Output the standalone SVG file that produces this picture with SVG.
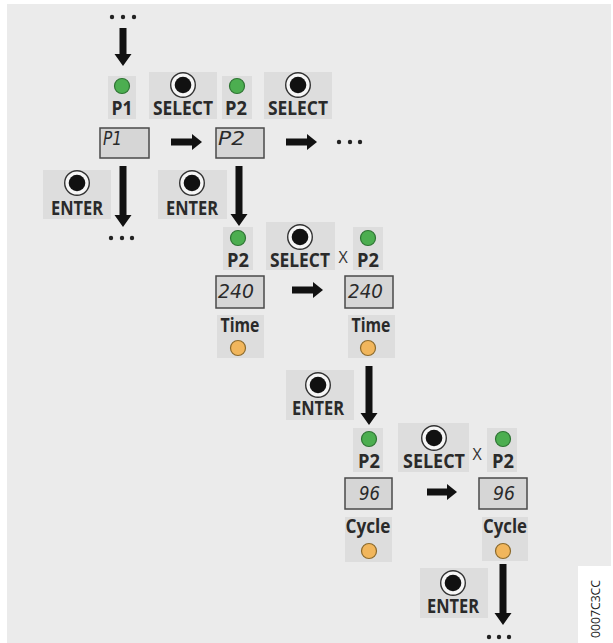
<svg xmlns="http://www.w3.org/2000/svg" xmlns:xlink="http://www.w3.org/1999/xlink" width="613" height="643" viewBox="0 0 613 643">
<style>
.bg{fill:#ebebeb}
.box{fill:#dddddd}
.disp{fill:#d6d6d6;stroke:#4a4a4a;stroke-width:1.5}
.lbl{font-family:"Open Sans","Noto Sans",sans-serif;font-weight:700;font-size:19.5px;fill:#2a2a2a;text-anchor:middle}
.dtxt{font-family:"DejaVu Sans","Liberation Sans",sans-serif;font-style:italic;font-weight:200;font-size:20px;fill:#2a2a2a}
.x{font-family:"Open Sans","Noto Sans",sans-serif;font-size:16px;fill:#333;text-anchor:middle}
.code{font-family:"Open Sans","Noto Sans",sans-serif;font-size:12px;fill:#222;text-anchor:middle}
.green{fill:#4cae50;stroke:#2e7433;stroke-width:1.2}
.orange{fill:#f1b65c;stroke:#8c6a2c;stroke-width:1.2}
.arrow{fill:#111}
.dot{fill:#222}
</style>
<defs>
<g id="btn">
<circle r="12.3" fill="#f6f6f6" stroke="#333" stroke-width="1.4"/>
<circle r="8.3" fill="#111"/>
</g>
</defs>
<rect class="bg" x="7" y="4" width="604" height="639"/>
<rect x="578" y="566" width="35" height="77" fill="#ffffff"/>

<g id="connectors">
<path class="arrow" d="M119.5,28 H126.5 V54 H131.5 L123,66 L114.5,54 H119.5 Z"/>
<path class="arrow" d="M171,138.5 H192 V134 L202,142 L192,150 V145.5 H171 Z"/>
<path class="arrow" d="M286,138.5 H307 V134 L317,142 L307,150 V145.5 H286 Z"/>
<path class="arrow" d="M119.5,166 H126.5 V215 H131.5 L123,227 L114.5,215 H119.5 Z"/>
<path class="arrow" d="M235.5,166 H242.5 V214 H247.5 L239,226 L230.5,214 H235.5 Z"/>
<path class="arrow" d="M292,286.5 H313 V282 L323,290 L313,298 V293.5 H292 Z"/>
<path class="arrow" d="M365.5,366 H372.5 V413 H377.5 L369,425 L360.5,413 H365.5 Z"/>
<path class="arrow" d="M427,488.5 H447 V484 L457,492 L447,500 V495.5 H427 Z"/>
<path class="arrow" d="M499.5,564 H506.5 V613 H511.5 L503,625 L494.5,613 H499.5 Z"/>
</g>

<g id="dots-top"><circle class="dot" cx="112" cy="17" r="2.2"/><circle class="dot" cx="123" cy="17" r="2.2"/><circle class="dot" cx="134" cy="17" r="2.2"/></g>
<g id="dots-right"><circle class="dot" cx="339" cy="142" r="2.2"/><circle class="dot" cx="350" cy="142" r="2.2"/><circle class="dot" cx="360" cy="142" r="2.2"/></g>
<g id="dots-enter1"><circle class="dot" cx="111" cy="238" r="2.2"/><circle class="dot" cx="122" cy="238" r="2.2"/><circle class="dot" cx="132" cy="238" r="2.2"/></g>
<g id="dots-bottom"><circle class="dot" cx="489" cy="637" r="2.2"/><circle class="dot" cx="499" cy="637" r="2.2"/><circle class="dot" cx="509" cy="637" r="2.2"/></g>

<!-- Row 1 -->
<g id="led-p1"><rect class="box" x="108" y="76" width="28" height="43"/><circle class="green" cx="122" cy="86" r="7.5"/><text class="lbl" x="122" y="115" textLength="21" lengthAdjust="spacingAndGlyphs">P1</text></g>
<g id="select1"><rect class="box" x="149" y="72" width="68" height="47"/><use xlink:href="#btn" x="183" y="85"/><text class="lbl" x="183" y="115" textLength="60" lengthAdjust="spacingAndGlyphs">SELECT</text></g>
<g id="led-p2a"><rect class="box" x="222" y="76" width="30" height="43"/><circle class="green" cx="237" cy="86" r="7.5"/><text class="lbl" x="236" y="115" textLength="22" lengthAdjust="spacingAndGlyphs">P2</text></g>
<g id="select2"><rect class="box" x="264" y="72" width="68" height="47"/><use xlink:href="#btn" x="298" y="85"/><text class="lbl" x="298" y="115" textLength="60" lengthAdjust="spacingAndGlyphs">SELECT</text></g>
<g id="disp-p1"><rect class="disp" x="100" y="128" width="49" height="30"/><text class="dtxt" x="103" y="145" textLength="19" lengthAdjust="spacingAndGlyphs" font-size="17">P1</text></g>
<g id="disp-p2"><rect class="disp" x="216" y="128" width="48" height="30"/><text class="dtxt" x="218" y="145" textLength="27" lengthAdjust="spacingAndGlyphs" font-size="17">P2</text></g>
<g id="enter1"><rect class="box" x="43" y="170" width="68" height="49"/><use xlink:href="#btn" x="77" y="183"/><text class="lbl" x="77" y="215" textLength="52" lengthAdjust="spacingAndGlyphs">ENTER</text></g>
<g id="enter2"><rect class="box" x="158" y="170" width="69" height="49"/><use xlink:href="#btn" x="192" y="183"/><text class="lbl" x="192" y="215" textLength="52" lengthAdjust="spacingAndGlyphs">ENTER</text></g>

<!-- Row 2 -->
<g id="led-p2b"><rect class="box" x="223" y="227" width="30" height="43"/><circle class="green" cx="238" cy="238" r="7.5"/><text class="lbl" x="238" y="267" textLength="22" lengthAdjust="spacingAndGlyphs">P2</text></g>
<g id="select3"><rect class="box" x="266" y="222" width="69" height="48"/><use xlink:href="#btn" x="300" y="237"/><text class="lbl" x="300" y="267" textLength="60" lengthAdjust="spacingAndGlyphs">SELECT</text><text class="x" x="343" y="263">X</text></g>
<g id="led-p2c"><rect class="box" x="353" y="227" width="30" height="43"/><circle class="green" cx="368" cy="238" r="7.5"/><text class="lbl" x="368" y="267" textLength="22" lengthAdjust="spacingAndGlyphs">P2</text></g>
<g id="disp-240a"><rect class="disp" x="216" y="276" width="48" height="32"/><text class="dtxt" x="218" y="298" textLength="36" lengthAdjust="spacingAndGlyphs" font-size="21">240</text></g>
<g id="disp-240b"><rect class="disp" x="345" y="276" width="48" height="32"/><text class="dtxt" x="348" y="298" textLength="35" lengthAdjust="spacingAndGlyphs" font-size="21">240</text></g>
<g id="time1"><rect class="box" x="217" y="315" width="47" height="43"/><text class="lbl" x="240" y="332" textLength="39" lengthAdjust="spacingAndGlyphs">Time</text><circle class="orange" cx="238" cy="348" r="7.5"/></g>
<g id="time2"><rect class="box" x="348" y="315" width="47" height="43"/><text class="lbl" x="371" y="332" textLength="39" lengthAdjust="spacingAndGlyphs">Time</text><circle class="orange" cx="368" cy="348" r="7.5"/></g>
<g id="enter3"><rect class="box" x="286" y="370" width="68" height="50"/><use xlink:href="#btn" x="318" y="385"/><text class="lbl" x="318" y="415" textLength="52" lengthAdjust="spacingAndGlyphs">ENTER</text></g>

<!-- Row 3 -->
<g id="led-p2d"><rect class="box" x="353" y="428" width="30" height="44"/><circle class="green" cx="369" cy="439" r="7.5"/><text class="lbl" x="369" y="468" textLength="22" lengthAdjust="spacingAndGlyphs">P2</text></g>
<g id="select4"><rect class="box" x="398" y="423" width="71" height="49"/><use xlink:href="#btn" x="434" y="438"/><text class="lbl" x="434" y="468" textLength="62" lengthAdjust="spacingAndGlyphs">SELECT</text><text class="x" x="477" y="460">X</text></g>
<g id="led-p2e"><rect class="box" x="487" y="428" width="30" height="44"/><circle class="green" cx="503" cy="439" r="7.5"/><text class="lbl" x="503" y="468" textLength="22" lengthAdjust="spacingAndGlyphs">P2</text></g>
<g id="disp-96a"><rect class="disp" x="345" y="478" width="47" height="31"/><text class="dtxt" x="359" y="500" textLength="21" lengthAdjust="spacingAndGlyphs" font-size="21">96</text></g>
<g id="disp-96b"><rect class="disp" x="479" y="478" width="48" height="31"/><text class="dtxt" x="493" y="500" textLength="22" lengthAdjust="spacingAndGlyphs" font-size="21">96</text></g>
<g id="cycle1"><rect class="box" x="345" y="517" width="47" height="45"/><text class="lbl" x="368" y="533" textLength="45" lengthAdjust="spacingAndGlyphs">Cycle</text><circle class="orange" cx="369" cy="551" r="7.5"/></g>
<g id="cycle2"><rect class="box" x="482" y="517" width="46" height="44"/><text class="lbl" x="505" y="533" textLength="44" lengthAdjust="spacingAndGlyphs">Cycle</text><circle class="orange" cx="503" cy="551" r="7.5"/></g>
<g id="enter4"><rect class="box" x="420" y="568" width="68" height="50"/><use xlink:href="#btn" x="453" y="583"/><text class="lbl" x="453" y="613" textLength="52" lengthAdjust="spacingAndGlyphs">ENTER</text></g>

<text class="code" transform="translate(600,609) rotate(-90)" textLength="58" lengthAdjust="spacingAndGlyphs">0007C3CC</text>
</svg>
